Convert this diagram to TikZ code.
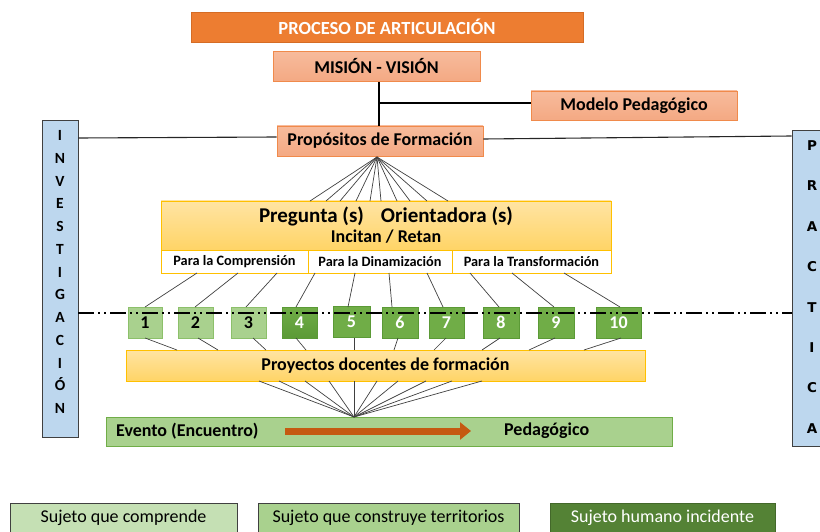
\documentclass[tikz,border=0pt]{standalone}
\usepackage{fontspec}
\setmainfont{Carlito}
\newfontfamily\dejavu{DejaVu Sans}
\usetikzlibrary{calc,arrows.meta}
\definecolor{cTitle}{HTML}{ED7D31}
\definecolor{cTitleB}{HTML}{D56C25}
\definecolor{cSalmon}{HTML}{F4A983}
\definecolor{cSalmonT}{HTML}{F7BB9C}
\definecolor{cSalmonB}{HTML}{F08A4B}
\definecolor{cYelT}{HTML}{FFE4A3}
\definecolor{cYelB}{HTML}{FFD466}
\definecolor{cYelD}{HTML}{FFC000}
\definecolor{cLG}{HTML}{A9D18E}
\definecolor{cLGB}{HTML}{8CC06A}
\definecolor{cDG}{HTML}{70AD47}
\definecolor{cDGB}{HTML}{5B9A36}
\definecolor{cBlue}{HTML}{BDD7EE}
\definecolor{cLeg1}{HTML}{C5E0B4}
\definecolor{cLeg3}{HTML}{548235}
\definecolor{cArrow}{HTML}{C55A11}
\definecolor{cLine}{HTML}{404040}
\begin{document}
\begin{tikzpicture}[x=1pt,y=-1pt,
  box/.style={draw, inner sep=0pt, align=center, line width=0.8pt},
  salmonbox/.style={box, top color=cSalmonT, bottom color=cSalmon, draw=cSalmonB, minimum height=30pt,
    font=\fontsize{18}{21}\selectfont\bfseries},
  yelbox/.style={box, top color=cYelT, bottom color=cYelB, draw=cYelD},
  parabox/.style={box, fill=white, draw=cYelD, minimum height=23pt, font=\fontsize{14.3}{16}\selectfont\bfseries},
  numlight/.style={box, fill=cLG, draw=cLGB, minimum height=31pt, font=\fontsize{18}{20}\selectfont\bfseries},
  numdark/.style={box, fill=cDG, draw=cDGB, minimum height=31pt, text=white, font=\fontsize{18}{20}\selectfont\bfseries},
  legbox/.style={box, draw=cLine, minimum height=30pt, font=\fontsize{18}{21}\selectfont},
  sidebox/.style={box, fill=cBlue, draw=cLine},
  thin/.style={draw=cLine, line width=0.7pt},
  thickblack/.style={draw=black, line width=2.4pt},
  sideline/.style={draw=black!85, line width=1.1pt},
  bigtext/.style={inner sep=0pt, font=\fontsize{18}{21}\selectfont\bfseries}
]
\useasboundingbox (0,0) rectangle (820,532);

% ---- top boxes
\node[box, fill=cTitle, draw=cTitleB, minimum width=392pt, minimum height=30pt, text=white,
  font=\fontsize{18.5}{21}\selectfont\bfseries] (title) at (387,27) {PROCESO DE ARTICULACIÓN};
\node[salmonbox, minimum width=207pt] (mision) at (376.5,66.5) {MISIÓN - VISIÓN};
\node[salmonbox, minimum width=206pt, minimum height=29pt] (modelo) at (634,105.5) {Modelo Pedagógico};
\node[salmonbox, minimum width=206pt] (prop) at (380,141) {Propósitos de Formación};

\coordinate (j) at (379,103);
\draw[thickblack] (mision.south -| j) -- (prop.north -| j);
\draw[thickblack] (j) -- (j -| modelo.west);

% ---- side boxes
\node[sidebox, minimum width=36pt, minimum height=317pt] (inv) at (60,278.5) {};
\node[font=\fontsize{15.5}{22.75}\selectfont\bfseries, align=center, inner sep=0pt] (invtext) at (60,272)
  {I\\N\\V\\E\\S\\T\\I\\G\\A\\C\\I\\Ó\\N};
\node[sidebox, minimum width=44pt, minimum height=316pt] (prac) at (814,288) {};
\node[font=\dejavu\fontsize{13.5}{40.4}\selectfont\bfseries, align=center, inner sep=0pt] (practext) at (812,287)
  {P\\R\\A\\C\\T\\I\\C\\A};

\draw[sideline] ($(inv.east)+(0,-140.5)$) -- ($(prop.west)+(0,-4)$);
\draw[sideline] ($(prop.east)+(0,-2)$) -- ($(prac.west)+(0,-152)$);

% ---- pregunta block
\node[yelbox, minimum width=450pt, minimum height=49pt] (preg) at (386,225.5) {};
\node[inner sep=0pt, font=\fontsize{21}{24}\selectfont\bfseries] (pregt1) at (386,216)
  {Pregunta (s)\hspace{17pt}Orientadora (s)};
\node[bigtext] (pregt2) at (386,237) {Incitan / Retan};
\node[parabox, minimum width=147pt] (para1) at (234.5,261.5) {Para la Comprensión};
\node[parabox, minimum width=144pt] (para2) at (380,261.5) {Para la Dinamización};
\node[parabox, minimum width=159pt] (para3) at (531.5,261.5) {Para la Transformación};

% fan from propósitos to pregunta
\coordinate (apexA) at (377,157);
\foreach \x [count=\i] in {310,326,340,356,370,381,397,410,427,448}{
  \coordinate (pf\i) at (\x,201);
  \draw[thin] (apexA) -- (pf\i);
}

% ---- numbered boxes
\node[numlight, minimum width=34pt] (n1) at (145,322.5) {1};
\node[numlight, minimum width=35pt] (n2) at (195.5,322.5) {2};
\node[numlight, minimum width=35pt] (n3) at (248.5,322.5) {3};
\node[numdark, minimum width=35pt, top color=cDG, bottom color=cDGB] (n4) at (299.5,322.5) {4};
\node[numdark, minimum width=37pt] (n5) at (351.5,321.5) {5};
\node[numdark, minimum width=36pt] (n6) at (400,322.5) {6};
\node[numdark, minimum width=35pt] (n7) at (446.5,322.5) {7};
\node[numdark, minimum width=36pt] (n8) at (501,322.5) {8};
\node[numdark, minimum width=36pt] (n9) at (556,322.5) {9};
\node[numdark, minimum width=45pt] (n10) at (618.5,322.5) {10};

% para -> numbered boxes
\foreach \x/\y [count=\i] in {197/145,238/195,277/246,315/296,355/348,389/392,427/443,470/499,512/554,564/620}{
  \coordinate (pt\i) at (\x,273);
  \coordinate (pb\i) at (\y,307);
  \draw[thin] (pt\i) -- (pb\i);
}

% ---- proyectos
\node[yelbox, minimum width=519pt, minimum height=31pt, font=\fontsize{18}{21}\selectfont\bfseries]
  (proy) at (385.5,365.5) {Proyectos docentes de formación};

\foreach \x/\y [count=\i] in {145/177,198/218,253/266,296/306,354/354,398/394,446/434,500/482,555/529,621/584}{
  \coordinate (qt\i) at (\x,338);
  \coordinate (qb\i) at (\y,350);
  \draw[thin] (qt\i) -- (qb\i);
}

% ---- event
\node[box, fill=cLG, draw=cDG, minimum width=566pt, minimum height=29pt] (event) at (389,431.5) {};
\coordinate (apexB) at (354,417);
\foreach \x [count=\i] in {259,279,305,329,354,377,398,426,452,482}{
  \coordinate (pp\i) at (\x,381);
  \draw[thin] (pp\i) -- (apexB);
}
\node[anchor=west, bigtext] (evt1) at (116,431) {Evento (Encuentro)};
\node[anchor=west, bigtext] (evt2) at (504,431) {Pedagógico};
\coordinate (ar1) at (285,431);
\coordinate (ar2) at (471,431);
\draw[cArrow, line width=7pt, -{Triangle[length=11pt,width=17pt]}] (ar1) -- (ar2);

% ---- dash-dot-dot line
\draw[black, line width=1.8pt, dash pattern=on 16pt off 4pt on 2pt off 4pt on 2pt off 4pt]
  (inv.east |- 0,313) -- (prac.west |- 0,313);

% ---- legend
\node[legbox, fill=cLeg1, minimum width=227pt] (leg1) at (123.5,518) {Sujeto que comprende};
\node[legbox, fill=cLG, minimum width=261pt] (leg2) at (388.5,518) {Sujeto que construye territorios};
\node[legbox, fill=cLeg3, draw=cLeg3!80!black, text=white, minimum width=225pt] (leg3) at (662.5,518) {Sujeto humano incidente};
\end{tikzpicture}
\end{document}
